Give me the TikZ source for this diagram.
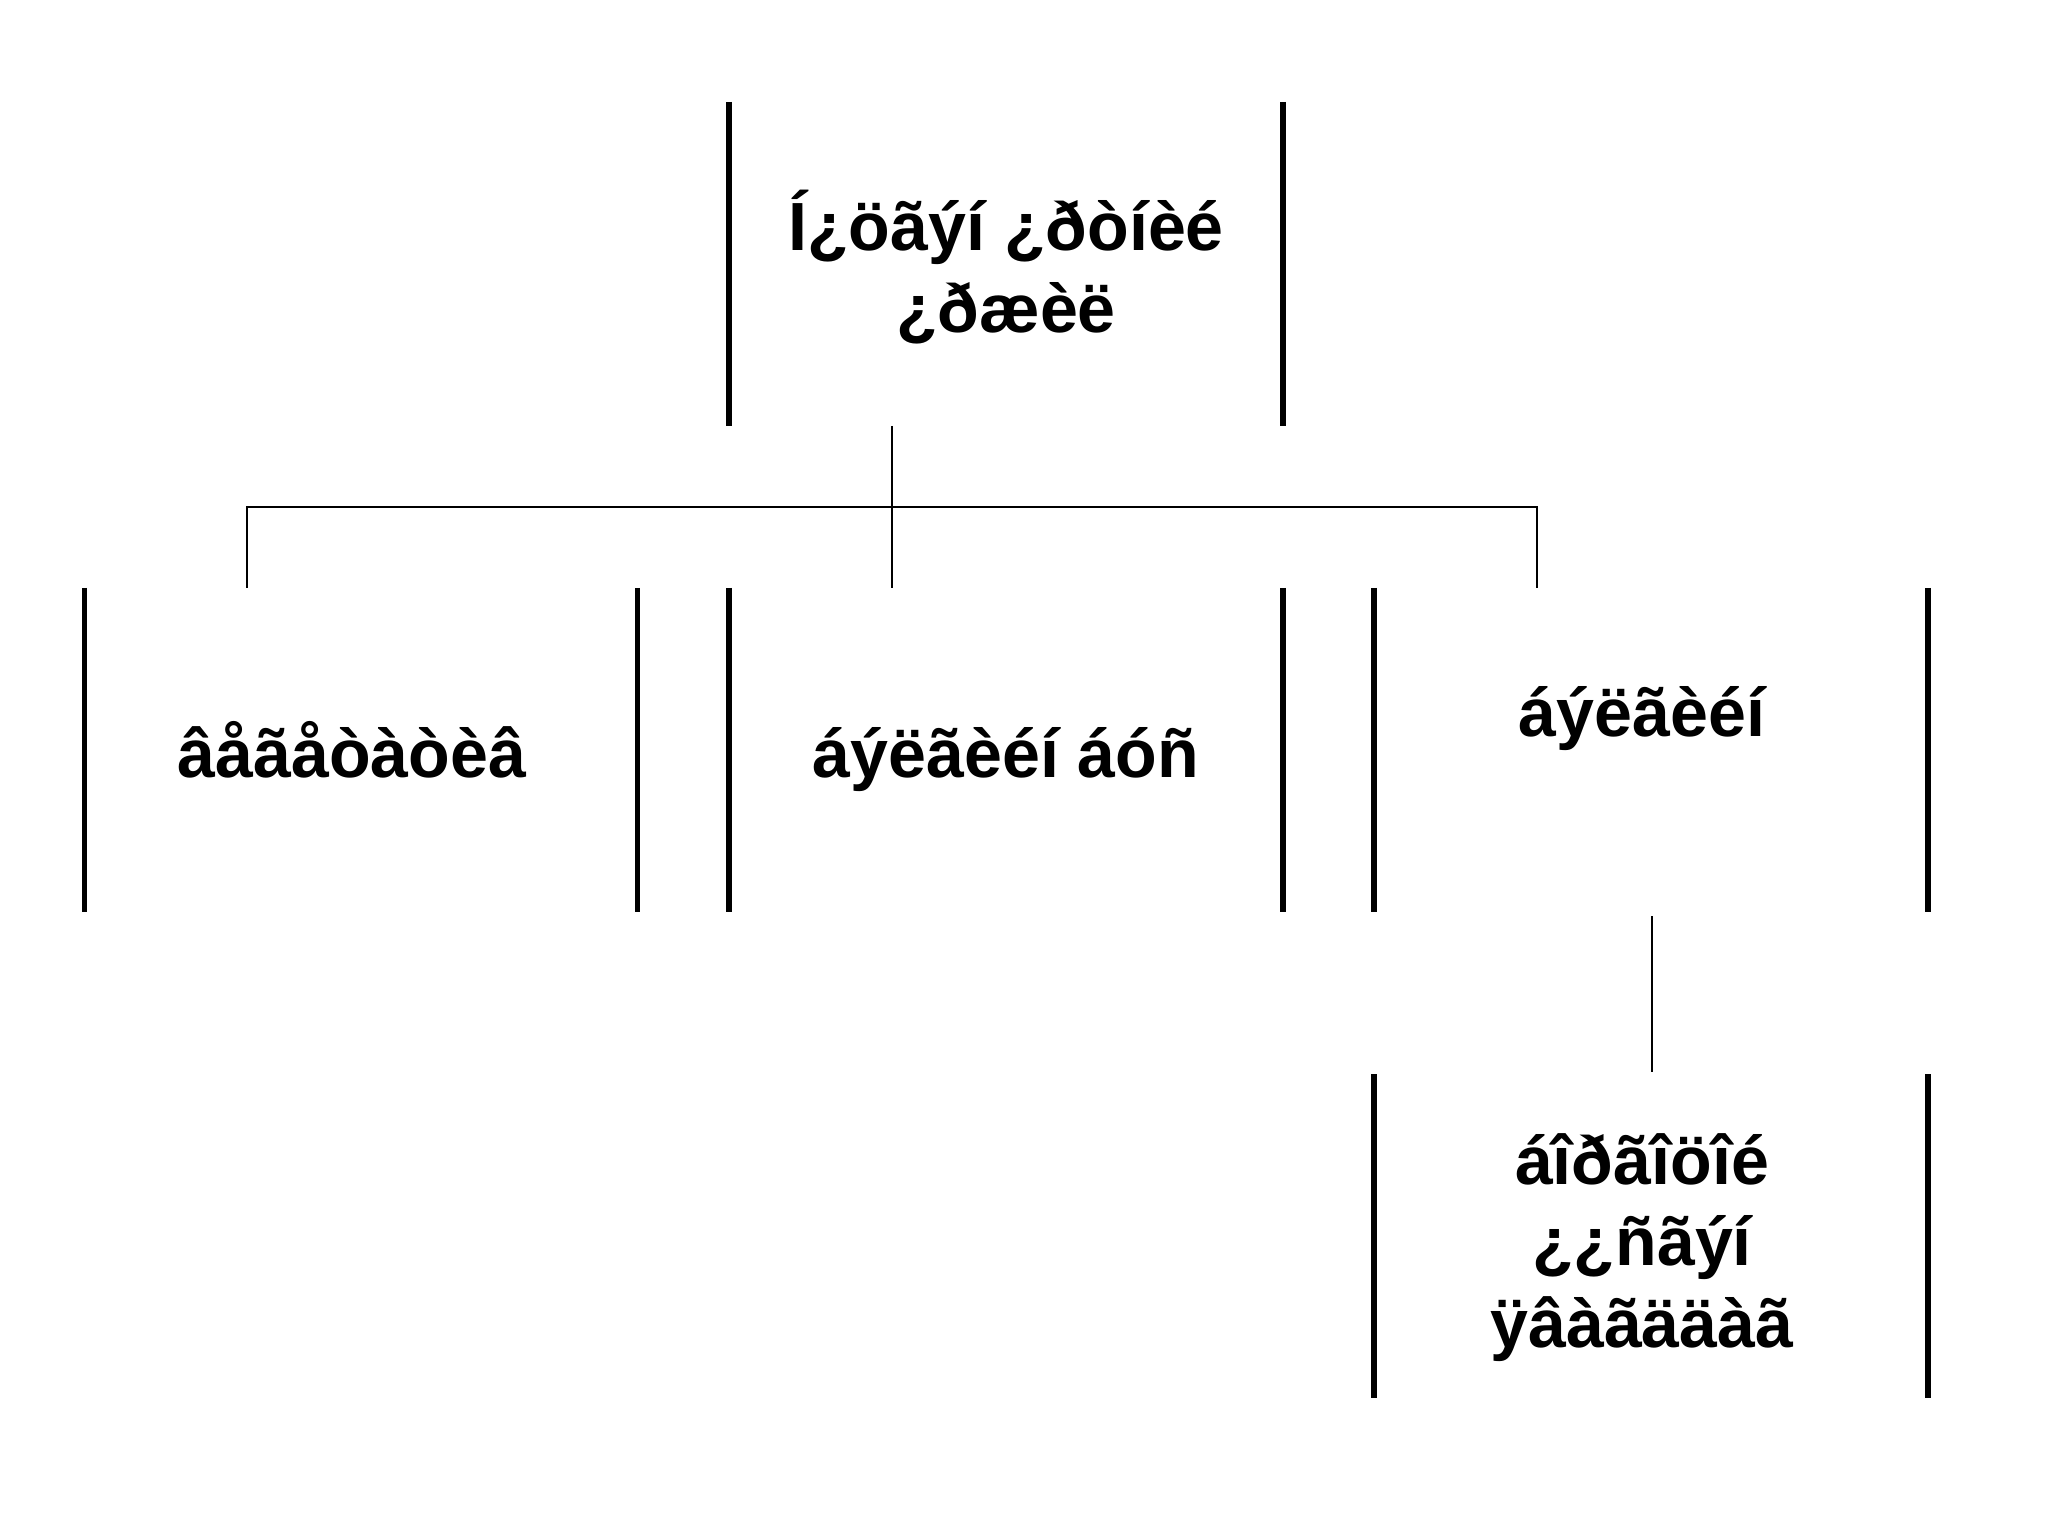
\documentclass[tikz,border=0pt]{standalone}
\usepackage{fontspec}
\setmainfont{Liberation Sans}
\usetikzlibrary{calc}
\begin{document}
\begin{tikzpicture}[
  frame/.style={inner sep=0pt, outer sep=0pt, minimum height=3.24cm},
  bar/.style={line width=1.45pt, line cap=butt},
  conn/.style={line width=0.6pt},
  lbl/.style={anchor=base, inner sep=0pt, align=center, font=\fontsize{19.4pt}{23.1pt}\selectfont\bfseries}
]
\useasboundingbox (0,0) rectangle (20.48,-15.36);
% frames (only left/right bars are drawn)
\node[frame, minimum width=5.54cm] (top) at (10.06,-2.64) {};
\node[frame, minimum width=5.525cm] (A) at (3.611,-7.50) {};
\node[frame, minimum width=5.54cm] (B) at (10.06,-7.50) {};
\node[frame, minimum width=5.54cm] (C) at (16.51,-7.50) {};
\node[frame, minimum width=5.54cm] (D) at (16.51,-12.36) {};
\foreach \n in {top,A,B,C,D}{
  \draw[bar] (\n.north west) -- (\n.south west);
  \draw[bar] (\n.north east) -- (\n.south east);
}
% texts (base anchor = baseline of the last line)
\node[lbl] (topT) at (10.06,-3.32) {Í¿öãýí ¿ðòíèé\\¿ðæèë};
\node[lbl] (AT) at (3.52,-7.78) {âåãåòàòèâ};
\node[lbl] (BT) at (10.06,-7.78) {áýëãèéí áóñ};
\node[lbl] (CT) at (16.42,-7.37) {áýëãèéí};
\node[lbl] (DT) at (16.42,-13.47) {áîðãîöîé\\¿¿ñãýí\\ÿâàãääàã};
% connectors
\coordinate (j) at ($(top.south)+(-1.14,0)$);
\coordinate (aj) at ($(A.north)+(-1.14,0)$);
\coordinate (cj) at ($(C.north)+(-1.14,0)$);
\draw[conn] (j) -- (j |- B.north);
\draw[conn] (aj) -- ++(0,0.81) -| (cj);
\coordinate (cd1) at ($(C.south)+(0.01,-0.04)$);
\coordinate (cd2) at ($(D.north)+(0.01,0.02)$);
\draw[conn] (cd1) -- (cd2);
\end{tikzpicture}
\end{document}
